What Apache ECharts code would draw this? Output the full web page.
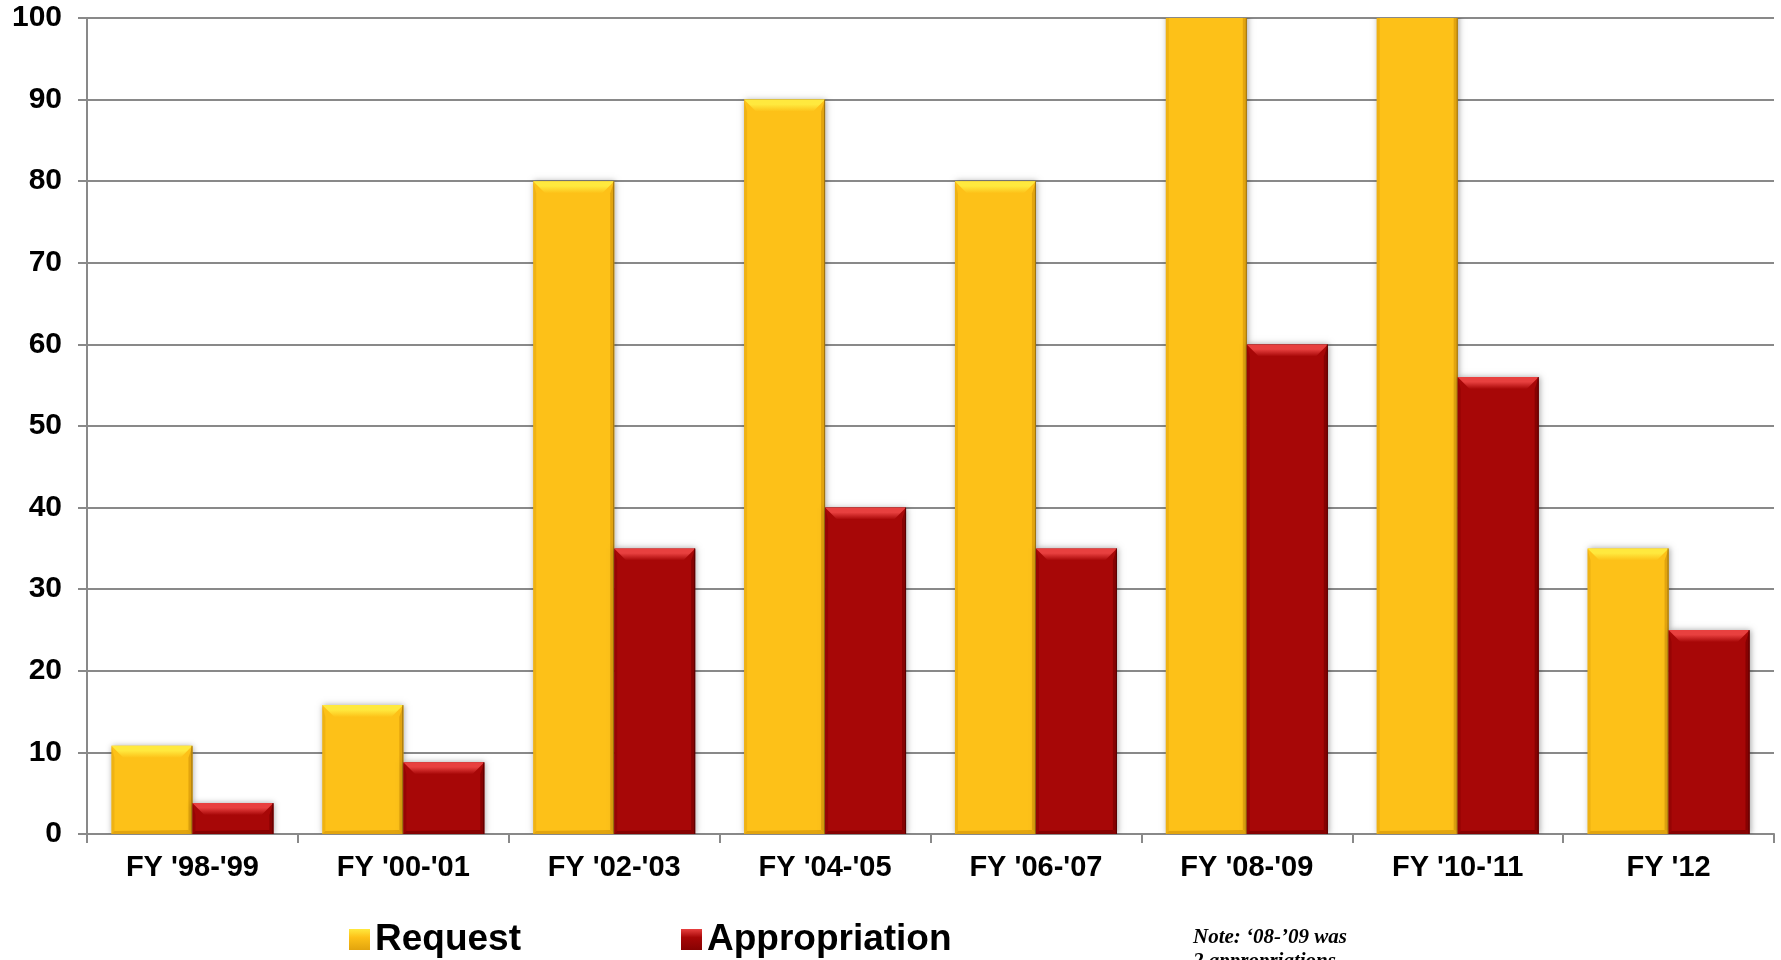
<!DOCTYPE html>
<html>
<head>
<meta charset="utf-8">
<style>
  html, body { margin: 0; padding: 0; background: #fff; }
  #chart { width: 1781px; height: 960px; }
</style>
<script src="https://cdn.jsdelivr.net/npm/echarts@6/dist/echarts.min.js"></script>
</head>
<body>
<div id="chart"></div>
<script>
// Fiscal periods along the x axis
const categories = ["FY '98-'99", "FY '00-'01", "FY '02-'03", "FY '04-'05", "FY '06-'07", "FY '08-'09", "FY '10-'11", "FY '12"];
// Requested amounts (the two tallest run past the top of the scale)
const requestValues = [10.8, 15.8, 80, 90, 80, 110, 105, 35];
// Appropriated amounts
const appropriationValues = [3.8, 8.8, 35, 40, 35, 60, 56, 25];
const seriesNames = ['Request', 'Appropriation'];

const palette = {
  Request: { base: '#FDC118', light: '#FFE93E', side: '#E2A40E', edge: '#8A6412' },
  Appropriation: { base: '#A70707', light: '#E8403F', side: '#860202', edge: '#4E0000' }
};

const FONT = '"Liberation Sans", Arial, sans-serif';

// Beveled bar drawn through the category/value scales
function bevelBar(side, c) {
  return function (params, api) {
    const idx = api.value(0);
    const v = api.value(1);
    const top = api.coord([idx, v]);
    const bot = api.coord([idx, 0]);
    const band = api.size([1, 0])[0];
    const w = band * 0.384;
    const x0 = side < 0 ? top[0] - w : top[0];
    const x1 = x0 + w;
    const y0 = top[1];
    const y1 = bot[1];
    const h = y1 - y0;
    const b = Math.min(12, h / 2);
    const e = Math.min(4, h / 2);
    return {
      type: 'group',
      children: [
        {
          type: 'rect',
          shape: { x: x0, y: y0, width: w, height: h },
          style: { fill: c.base, shadowBlur: 6, shadowColor: 'rgba(0,0,0,0.35)', shadowOffsetX: 1 }
        },
        {
          type: 'polygon',
          shape: { points: [[x0, y0], [x1, y0], [x1 - b, y0 + b], [x0 + b, y0 + b]] },
          style: {
            fill: new echarts.graphic.LinearGradient(0, 0, 0, 1, [
              { offset: 0, color: c.light },
              { offset: 0.4, color: c.light },
              { offset: 1, color: c.base }
            ])
          }
        },
        {
          type: 'polygon',
          shape: { points: [[x1, y0], [x1, y1], [x1 - e, y1 - e], [x1 - e, y0 + b]] },
          style: { fill: c.side }
        },
        {
          type: 'polygon',
          shape: { points: [[x0, y0], [x0 + 3, y0 + b], [x0 + 3, y1 - 3], [x0, y1]] },
          style: { fill: c.side, opacity: 0.5 }
        },
        {
          type: 'polygon',
          shape: { points: [[x0, y1], [x1, y1], [x1 - e, y1 - e], [x0 + 3, y1 - 3]] },
          style: { fill: c.side }
        },
        {
          type: 'line',
          shape: { x1: x1 - 0.5, y1: y0, x2: x1 - 0.5, y2: y1 },
          style: { stroke: c.edge, lineWidth: 1, opacity: 0.8 }
        }
      ]
    };
  };
}

function legendIcon(c) {
  return new echarts.graphic.LinearGradient(0, 0, 0, 1, [
    { offset: 0, color: c.light },
    { offset: 0.4, color: c.base },
    { offset: 1, color: c.side }
  ]);
}

const chart = echarts.init(document.getElementById('chart'), null, { renderer: 'canvas' });

chart.setOption({
  animation: false,
  backgroundColor: '#ffffff',
  grid: { left: 87, right: 7, top: 18, bottom: 126, containLabel: false },
  legend: {
    left: 349,
    top: 921,
    padding: 0,
    icon: 'rect',
    itemWidth: 21,
    itemHeight: 21,
    itemGap: 160,
    textStyle: { fontFamily: FONT, fontWeight: 'bold', fontSize: 37, color: '#000' },
    data: seriesNames.map(n => ({ name: n, itemStyle: { color: legendIcon(palette[n]) } }))
  },
  xAxis: {
    type: 'category',
    data: categories,
    axisLine: { show: true, lineStyle: { color: '#898989', width: 2 } },
    axisTick: { show: true, length: 9, lineStyle: { color: '#898989', width: 2 } },
    axisLabel: { fontFamily: FONT, fontWeight: 'bold', fontSize: 29, color: '#000', margin: 19 },
    splitLine: { show: false }
  },
  yAxis: {
    type: 'value',
    min: 0,
    max: 100,
    interval: 10,
    axisLine: { show: true, lineStyle: { color: '#898989', width: 2 } },
    axisTick: { show: true, length: 9, lineStyle: { color: '#898989', width: 2 } },
    axisLabel: { fontFamily: FONT, fontWeight: 'bold', fontSize: 30, color: '#000', margin: 25 },
    splitLine: { show: true, lineStyle: { color: '#898989', width: 2 } }
  },
  series: [
    {
      name: seriesNames[0],
      type: 'custom',
      clip: true,
      itemStyle: { color: palette.Request.base },
      renderItem: bevelBar(-1, palette.Request),
      encode: { x: 0, y: 1 },
      data: requestValues.map((v, i) => [i, v])
    },
    {
      name: seriesNames[1],
      type: 'custom',
      clip: true,
      itemStyle: { color: palette.Appropriation.base },
      renderItem: bevelBar(1, palette.Appropriation),
      encode: { x: 0, y: 1 },
      data: appropriationValues.map((v, i) => [i, v])
    }
  ],
  graphic: [
    {
      type: 'text',
      left: 1193,
      top: 926,
      style: {
        text: 'Note: \u201808-\u201909 was\n2 appropriations',
        font: 'italic bold 21px "Liberation Serif", "Times New Roman", serif',
        fill: '#000',
        lineHeight: 24
      }
    }
  ]
});
</script>
</body>
</html>
